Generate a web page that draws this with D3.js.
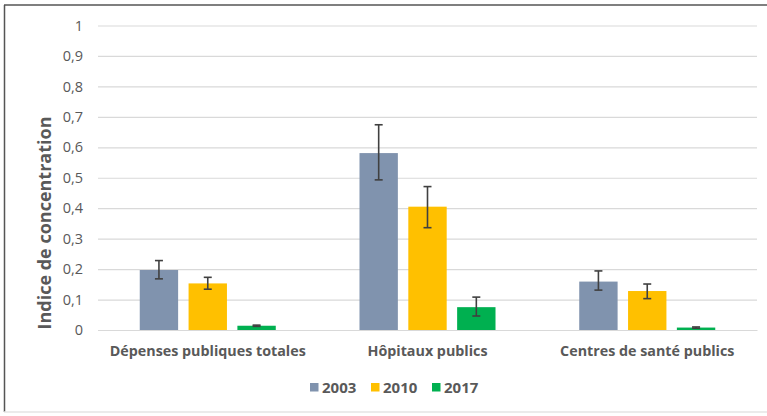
<!DOCTYPE html>
<html><head><meta charset="utf-8">
<script src="https://cdn.jsdelivr.net/npm/d3@7"></script>
<style>body{margin:0;background:#fff}svg{display:block}</style>
</head><body>
<script>
const categories = ["Dépenses publiques totales", "Hôpitaux publics", "Centres de santé publics"];
const seriesNames = ["2003", "2010", "2017"];
const values2003 = [0.197, 0.581, 0.159];
const values2010 = [0.153, 0.405, 0.128];
const values2017 = [0.014, 0.075, 0.008];
const errLow2003 = [0.168, 0.493, 0.131];
const errHigh2003 = [0.228, 0.674, 0.194];
const errLow2010 = [0.134, 0.336, 0.103];
const errHigh2010 = [0.173, 0.471, 0.151];
const errLow2017 = [0.012, 0.046, 0.006];
const errHigh2017 = [0.016, 0.108, 0.010];
const yTicks = [0, 0.1, 0.2, 0.3, 0.4, 0.5, 0.6, 0.7, 0.8, 0.9, 1];
const colors = ["#8093AE", "#FFC000", "#00B050"];

const series = [
  {name: seriesNames[0], vals: values2003, lo: errLow2003, hi: errHigh2003},
  {name: seriesNames[1], vals: values2010, lo: errLow2010, hi: errHigh2010},
  {name: seriesNames[2], vals: values2017, lo: errLow2017, hi: errHigh2017}
];

const W = 767, H = 416;
const svg = d3.select("body").append("svg").attr("width", W).attr("height", H);
const font = "'Open Sans', sans-serif";

// frame
svg.append("line").attr("x1", 4.5).attr("x2", 4.5).attr("y1", 5).attr("y2", 412).attr("stroke", "#555").attr("stroke-width", 1.5);
svg.append("line").attr("x1", 4).attr("x2", 767).attr("y1", 5).attr("y2", 5).attr("stroke", "#555").attr("stroke-width", 1.5);
svg.append("line").attr("x1", 4).attr("x2", 767).attr("y1", 412).attr("y2", 412).attr("stroke", "#e4e4e4").attr("stroke-width", 1.5);

const x0 = d3.scaleBand().domain(categories).range([98, 757]).paddingInner(0.381).paddingOuter(0.19);
const x1 = d3.scaleBand().domain(seriesNames).range([0, x0.bandwidth()]).paddingInner(0.214);
const y = d3.scaleLinear().domain([0, 1]).range([330, 25.5]);

// grid + y axis
const yAxis = d3.axisLeft(y).tickValues(yTicks).tickSize(-(757 - 98))
  .tickFormat(d => d3.format(".1~f")(d).replace(".", ","));
const gy = svg.append("g").attr("transform", "translate(98,0)").call(yAxis);
gy.select(".domain").remove();
gy.selectAll(".tick line").attr("stroke", "#d9d9d9").attr("stroke-width", 1.2);
gy.selectAll(".tick text").attr("x", -15).attr("fill", "#595959")
  .style("font-family", font).style("font-size", "14.5px");

// bars
const groups = svg.append("g").selectAll("g").data(series).join("g");
groups.each(function(s, si) {
  const g = d3.select(this);
  categories.forEach((c, ci) => {
    const bx = x0(c) + x1(s.name);
    g.append("rect").attr("x", bx).attr("width", x1.bandwidth())
      .attr("y", y(s.vals[ci])).attr("height", y(0) - y(s.vals[ci]))
      .attr("fill", colors[si]);
  });
});
// error bars
groups.each(function(s, si) {
  const g = d3.select(this);
  categories.forEach((c, ci) => {
    const cx = x0(c) + x1(s.name) + x1.bandwidth() / 2;
    const e = g.append("g").attr("stroke", "#404040").attr("stroke-width", 1.6);
    e.append("line").attr("x1", cx).attr("x2", cx).attr("y1", y(s.hi[ci])).attr("y2", y(s.lo[ci]));
    e.append("line").attr("x1", cx - 4).attr("x2", cx + 4).attr("y1", y(s.hi[ci])).attr("y2", y(s.hi[ci]));
    e.append("line").attr("x1", cx - 4).attr("x2", cx + 4).attr("y1", y(s.lo[ci])).attr("y2", y(s.lo[ci]));
  });
});

// x axis
const xAxis = d3.axisBottom(x0).tickSize(0).tickPadding(16);
const gx = svg.append("g").attr("transform", "translate(0,330)").call(xAxis);
gx.select(".domain").attr("stroke", "#d9d9d9").attr("stroke-width", 1.2);
gx.selectAll(".tick text").attr("fill", "#595959").style("font-family", font)
  .style("font-size", "14.3px").style("font-weight", "bold");

// y title
svg.append("text").attr("transform", "translate(51,223) rotate(-90)")
  .attr("text-anchor", "middle").attr("fill", "#595959")
  .style("font-family", font).style("font-size", "18px").style("font-weight", "bold")
  .text("Indice de concentration");

// legend
const legX = [310, 371, 432];
const leg = svg.append("g").selectAll("g").data(series).join("g")
  .attr("transform", (d, i) => `translate(${legX[i]},383)`);
leg.append("rect").attr("width", 8.5).attr("height", 8.5).attr("fill", (d, i) => colors[i]);
leg.append("text").attr("x", 12).attr("y", 9.5).attr("fill", "#595959")
  .style("font-family", font).style("font-size", "15px").style("font-weight", "bold")
  .text(d => d.name);
</script>
</body></html>
